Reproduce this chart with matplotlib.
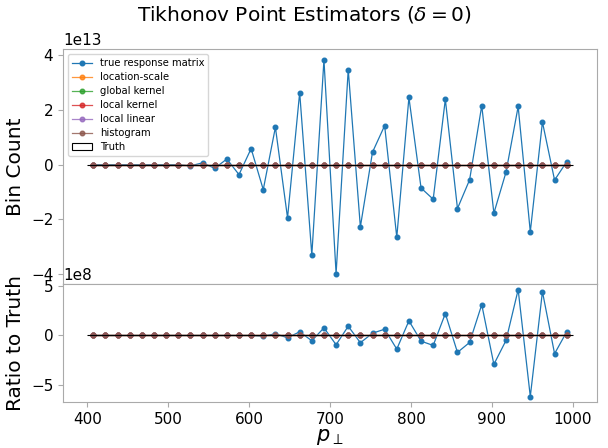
import numpy as np
from matplotlib import pyplot as plt

# Bin edges / centres of p_perp
bin_edges = np.arange(400, 1001, 15)
bin_centres = (bin_edges[:-1] + bin_edges[1:]) / 2

# Estimates (units of 1e13)
true_response = [0, 0, 0, 0, 0, 0, 0, 0, -0.04, 0.07,
                 -0.13, 0.21, -0.36, 0.59, -0.91, 1.37, -1.94, 2.64, -3.30, 3.83,
                 -3.98, 3.48, -2.27, 0.46, 1.43, -2.65, 2.46, -0.85, -1.26, 2.39,
                 -1.60, -0.55, 2.16, -1.77, -0.27, 2.13, -2.45, 1.56, -0.56, 0.11]

# Ratio to truth (units of 1e8)
true_response_ratio = [0, 0, 0, 0, 0, 0, 0, 0, 0, 0,
                       0, 0, 0, 0, -0.07, 0.17, -0.23, 0.37, -0.53, 0.77,
                       -0.93, 0.93, -0.73, 0.23, 0.63, -1.37, 1.47, -0.57, -1.0, 2.2,
                       -1.7, -0.7, 3.1, -2.9, -0.5, 4.6, -6.13, 4.4, -1.83, 0.37]

# Truth histogram counts (tiny on this scale)
truth = [52000, 47000, 42500, 38000, 34000, 30500, 27300, 24400, 21800, 19500,
         17400, 15500, 13800, 12300, 11000, 9800, 8700, 7800, 6900, 6200,
         5500, 4900, 4400, 3900, 3500, 3100, 2750, 2450, 2200, 1950,
         1740, 1550, 1380, 1230, 1100, 980, 870, 780, 690, 620]

other_labels = ['location-scale', 'global kernel', 'local kernel', 'local linear', 'histogram']

fig, (ax, rax) = plt.subplots(2, 1, figsize=(6.08, 4.48), dpi=100, sharex=True,
                              gridspec_kw={'height_ratios': [2, 1], 'hspace': 0})
fig.subplots_adjust(left=0.1036, right=0.982, top=0.89, bottom=0.103)

truth = np.array(truth, dtype=float)
ax.plot(bin_centres, np.array(true_response) * 1e13, marker='o', ms=3.3, lw=0.9,
        color='tab:blue', label='true response matrix')
rax.plot(bin_centres, np.array(true_response_ratio) * 1e8, marker='o', ms=3.3, lw=0.9,
         color='tab:blue')
colors = ['tab:orange', 'tab:green', 'tab:red', 'tab:purple', 'tab:brown']
for lab, c in zip(other_labels, colors):
    ax.plot(bin_centres, truth, marker='o', ms=3.3, lw=0.9, color=c, label=lab, alpha=0.8)
    rax.plot(bin_centres, np.ones_like(truth), marker='o', ms=3.3, lw=0.9, color=c, alpha=0.8)

ax.hist(bin_centres, bins=bin_edges, weights=truth, histtype='step', color='k', lw=0.8,
        label='Truth')
rax.hist(bin_centres, bins=bin_edges, weights=np.ones_like(truth), histtype='step',
         color='k', lw=0.8)

for a in (ax, rax):
    for s in a.spines.values():
        s.set_color('#aaaaaa')
    a.tick_params(labelsize=11, color='#aaaaaa')
    a.yaxis.get_offset_text().set_fontsize(11)

ax.set_ylabel('Bin Count', fontsize=14.5)
rax.set_ylabel('Ratio to Truth', fontsize=14.5)
rax.set_xlabel(r'$p_\perp$', fontsize=15, labelpad=0)
ax.legend(loc='upper left', fontsize=7.2, labelspacing=0.4)
fig.suptitle(r'Tikhonov Point Estimators ($\delta=0$)', fontsize=14.5, y=0.99)

plt.savefig('out.png')
